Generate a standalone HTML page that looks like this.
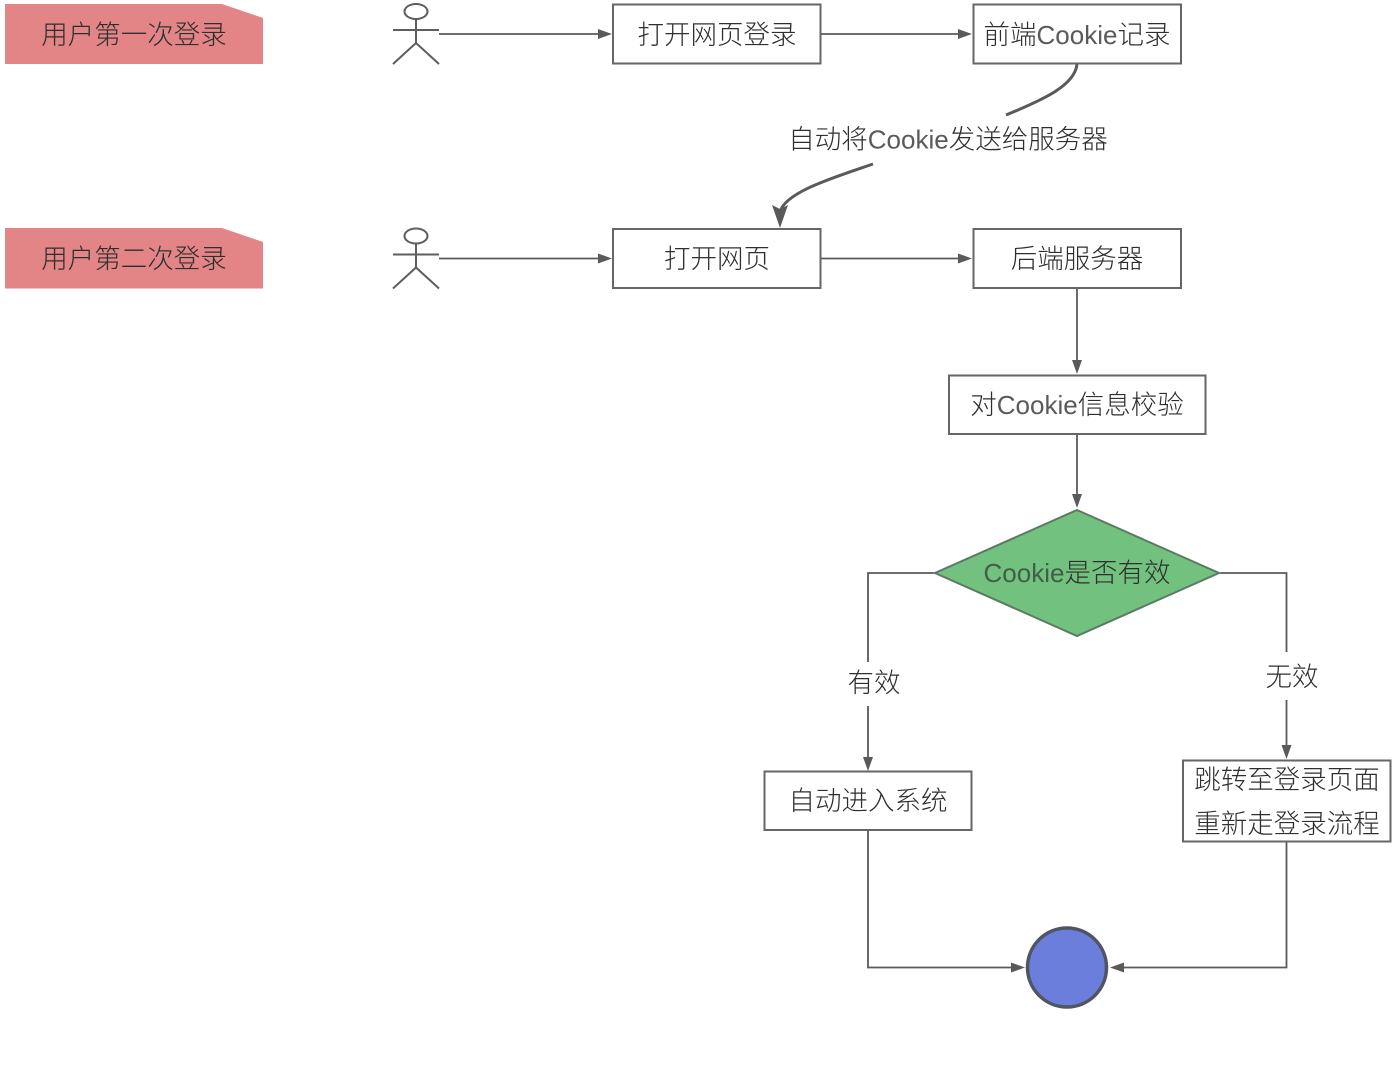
<!DOCTYPE html>
<html lang="zh">
<head>
<meta charset="utf-8">
<style>
html,body{margin:0;padding:0;background:#fff;width:1400px;height:1074px;overflow:hidden}
svg{display:block}
text{font-family:"Liberation Sans","Noto Sans CJK SC",sans-serif;font-size:26.5px;fill:#2e2e2e;text-anchor:middle;font-weight:300}
tspan{fill:#5a5a5a;font-size:26px}
.g tspan{fill:#3f5f48}
.b{fill:#fff;stroke:#666;stroke-width:2}
.l{fill:none;stroke:#5a5a5a;stroke-width:1.8}
.a{fill:#5a5a5a;stroke:none}
</style>
</head>
<body>
<svg width="1400" height="1074" viewBox="0 0 1400 1074" xmlns="http://www.w3.org/2000/svg">
<defs>
<g id="actor" fill="none" stroke="#5e5e5e" stroke-width="2">
<ellipse cx="416" cy="11.500" rx="11.500" ry="7.500"/>
<path d="M416 19V43M393 30H439M393 64L416 43L439 64"/>
</g>
</defs>

<!-- Labels -->
<path d="M5 4H222L263 18V64H5Z" fill="#e38587"/>
<text x="134" y="44">用户第一次登录</text>
<path d="M5 228H222L263 242V288.500H5Z" fill="#e38587"/>
<text x="134" y="268">用户第二次登录</text>

<!-- Actors -->
<use href="#actor"/>
<use href="#actor" y="224.500"/>

<!-- Connectors -->
<path class="l" d="M439 34H601"/><path class="a" d="M612 34L598 29V39Z"/>
<path class="l" d="M821 34H961"/><path class="a" d="M972 34L958 29V39Z"/>
<path class="l" d="M439 258.500H601"/><path class="a" d="M612 258.500L598 253.500V263.500Z"/>
<path class="l" d="M821 258.500H961"/><path class="a" d="M972 258.500L958 253.500V263.500Z"/>
<path class="l" d="M1077 288V363"/><path class="a" d="M1077 374L1072 360H1082Z"/>
<path class="l" d="M1077 434V497"/><path class="a" d="M1077 508L1072 494H1082Z"/>
<path class="l" d="M934 573H868V662"/>
<path class="l" d="M868 706V760"/><path class="a" d="M868 771L863 757H873Z"/>
<path class="l" d="M1220 573H1286.500V652"/>
<path class="l" d="M1286.500 700V748"/><path class="a" d="M1286.500 759L1281.500 745H1291.500Z"/>
<path class="l" d="M868 830V967.500H1013"/><path class="a" d="M1025 967.500L1011 962.500V972.500Z"/>
<path class="l" d="M1286.500 842V967.500H1122"/><path class="a" d="M1110 967.500L1124 962.500V972.500Z"/>

<!-- Curved connector -->
<path d="M1077 64C1075 85 1045 99 1006 115" fill="none" stroke="#5a5a5a" stroke-width="3"/>
<path d="M873 164C835 177 785 192 780 212" fill="none" stroke="#5a5a5a" stroke-width="3"/>
<path class="a" d="M780 228L772 205L780 209L788 205Z"/>
<text x="948" y="148.500">自动将<tspan>Cookie</tspan>发送给服务器</text>

<!-- Boxes -->
<rect class="b" x="613" y="4.500" width="207.500" height="59"/>
<text x="717" y="44">打开网页登录</text>
<rect class="b" x="973.500" y="4.500" width="207.500" height="59"/>
<text x="1077" y="44">前端<tspan>Cookie</tspan>记录</text>
<rect class="b" x="613" y="229" width="207.500" height="59"/>
<text x="717" y="268">打开网页</text>
<rect class="b" x="973.500" y="229" width="207.500" height="59"/>
<text x="1077" y="268">后端服务器</text>
<rect class="b" x="949" y="375.500" width="256.500" height="58.500"/>
<text x="1077" y="414">对<tspan>Cookie</tspan>信息校验</text>
<path d="M1077 510L1219 573L1077 636L935 573Z" fill="#72c17f" stroke="#5a7a62" stroke-width="2"/>
<text class="g" x="1077" y="582"><tspan>Cookie</tspan>是否有效</text>
<text x="874" y="692">有效</text>
<text x="1292" y="686">无效</text>
<rect class="b" x="764.500" y="771.500" width="207" height="58.500"/>
<text x="868" y="810">自动进入系统</text>
<rect class="b" x="1183" y="760.500" width="207.500" height="81"/>
<text x="1287" y="789">跳转至登录页面</text>
<text x="1287" y="833">重新走登录流程</text>

<!-- Terminal -->
<circle cx="1067" cy="967.500" r="39.500" fill="#6c7edb" stroke="#505563" stroke-width="3.500"/>
</svg>
</body>
</html>
